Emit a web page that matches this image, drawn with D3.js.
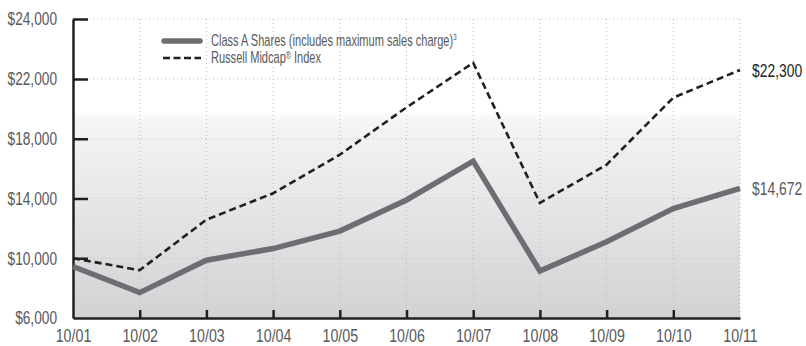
<!DOCTYPE html>
<html>
<head>
<meta charset="utf-8">
<script src="https://cdn.jsdelivr.net/npm/d3@7"></script>
<style>
  html, body { margin: 0; padding: 0; background: #fff; }
  svg { display: block; }
  text { font-family: "Liberation Sans", Arial, sans-serif; }
</style>
</head>
<body>
<svg id="chart" width="806" height="346"></svg>
<script>
// Growth of a $10,000 investment, fiscal years ending October
const periods = ["10/01", "10/02", "10/03", "10/04", "10/05", "10/06", "10/07", "10/08", "10/09", "10/10", "10/11"];
const classAShares = [9450, 7700, 9870, 10650, 11820, 13900, 16500, 9150, 11100, 13330, 14672];
const russellMidcap = [10000, 9200, 12580, 14350, 16930, 20100, 22540, 13700, 16270, 20750, 22300];
const yTickValues = [6000, 10000, 14000, 18000, 22000, 24000];
const yTickLabels = ["$6,000", "$10,000", "$14,000", "$18,000", "$22,000", "$24,000"];
const seriesNames = ["Class A Shares (includes maximum sales charge)", "Russell Midcap", " Index"];

const svg = d3.select("#chart");
const plotLeft = 73, plotRight = 740, plotTop = 19, plotBottom = 318;

// condensed look: squeeze each label horizontally around its anchor
function condense(sel, k) {
  sel.each(function () {
    const len = this.getComputedTextLength();
    d3.select(this).attr("textLength", len * k).attr("lengthAdjust", "spacingAndGlyphs");
  });
}

const x = d3.scalePoint().domain(periods).range([plotLeft, plotRight]);
const y = d3.scaleLinear().domain([6000, 22000, 24000]).range([plotBottom, 79, plotTop]);

// plot background: white fading into grey toward the baseline
const defs = svg.append("defs");
const grad = defs.append("linearGradient").attr("id", "bg").attr("x1", 0).attr("y1", 0).attr("x2", 0).attr("y2", 1);
grad.append("stop").attr("offset", "0").attr("stop-color", "#ffffff");
grad.append("stop").attr("offset", "0.31").attr("stop-color", "#ffffff");
grad.append("stop").attr("offset", "0.34").attr("stop-color", "#f5f5f6");
grad.append("stop").attr("offset", "1").attr("stop-color", "#d1d2d4");
svg.append("rect").attr("x", plotLeft).attr("y", plotTop)
  .attr("width", plotRight - plotLeft).attr("height", plotBottom - plotTop)
  .attr("fill", "url(#bg)");

// dotted grid
const grid = svg.append("g").attr("stroke", "#bcbec0").attr("stroke-width", 1).attr("stroke-dasharray", "1,3");
grid.selectAll("line.v").data(periods.slice(1)).join("line").attr("class", "v")
  .attr("x1", d => x(d)).attr("x2", d => x(d)).attr("y1", plotTop).attr("y2", plotBottom);
grid.selectAll("line.h").data(yTickValues.slice(1)).join("line").attr("class", "h")
  .attr("x1", plotLeft).attr("x2", plotRight).attr("y1", d => y(d)).attr("y2", d => y(d));

// axes
const yAxis = d3.axisLeft(y).tickValues(yTickValues)
  .tickFormat((d, i) => yTickLabels[i]).tickSizeInner(-15).tickSizeOuter(0).tickPadding(16);
const gy = svg.append("g").attr("transform", `translate(${plotLeft},0)`).call(yAxis);

const xAxis = d3.axisBottom(x).tickSizeInner(-8).tickSizeOuter(0).tickPadding(11);
const gx = svg.append("g").attr("transform", `translate(0,${plotBottom})`).call(xAxis);

[gy, gx].forEach(g => {
  g.select(".domain").attr("stroke", "#231f20").attr("stroke-width", 2.5);
  g.selectAll(".tick line").attr("stroke", "#231f20").attr("stroke-width", 2.5);
  g.selectAll(".tick text").attr("fill", "#58595b").attr("font-family", null)
    .style("font-family", "'Liberation Sans', Arial, sans-serif").style("font-size", "18px");
});
condense(gy.selectAll(".tick text"), 0.76);
condense(gx.selectAll(".tick text"), 0.79);
gx.selectAll(".tick").filter((d, i) => i === 0 || i === periods.length - 1).select("line").remove();
gy.selectAll(".tick").filter(d => d === 6000).select("line").remove();

// series lines
const line = d3.line().x((d, i) => x(periods[i])).y(d => y(d));
svg.append("path").datum(russellMidcap).attr("d", line)
  .attr("fill", "none").attr("stroke", "#231f20").attr("stroke-width", 2.6)
  .attr("stroke-dasharray", "7,4").attr("stroke-linejoin", "miter");
svg.append("path").datum(classAShares).attr("d", line)
  .attr("fill", "none").attr("stroke", "#6d6e71").attr("stroke-width", 5.5)
  .attr("stroke-linejoin", "miter");

// ending values, squeezed horizontally to a condensed width
const fmt = d3.format("$,");
const last = periods.length - 1;
const endValues = [
  { value: russellMidcap[last], color: "#231f20" },
  { value: classAShares[last], color: "#58595b" }
];
svg.append("g").selectAll("g").data(endValues).join("g")
  .attr("transform", d => `translate(752,${y(d.value)}) scale(0.73,1)`)
  .append("text").attr("dy", "0.35em").attr("fill", d => d.color)
  .style("font-size", "19px").text(d => fmt(d.value));

// legend
const lg = svg.append("g");
lg.append("line").attr("x1", 164).attr("x2", 200).attr("y1", 41).attr("y2", 41)
  .attr("stroke", "#6d6e71").attr("stroke-width", 5.5).attr("stroke-linecap", "round");
lg.append("line").attr("x1", 163).attr("x2", 201).attr("y1", 58).attr("y2", 58)
  .attr("stroke", "#231f20").attr("stroke-width", 2.6).attr("stroke-dasharray", "7,3.5");
const lt = lg.append("g").attr("transform", "translate(211,0) scale(0.69,1)")
  .attr("fill", "#58595b").style("font-size", "16px");
const t1 = lt.append("text").attr("x", 0).attr("y", 46.5);
t1.append("tspan").text(seriesNames[0]);
t1.append("tspan").attr("dy", -6).style("font-size", "9px").text("3");
const t2 = lt.append("text").attr("x", 0).attr("y", 63.5);
t2.append("tspan").text(seriesNames[1]);
t2.append("tspan").attr("dy", -4).style("font-size", "10px").text("®");
t2.append("tspan").attr("dy", 4).text(seriesNames[2]);
</script>
</body>
</html>
